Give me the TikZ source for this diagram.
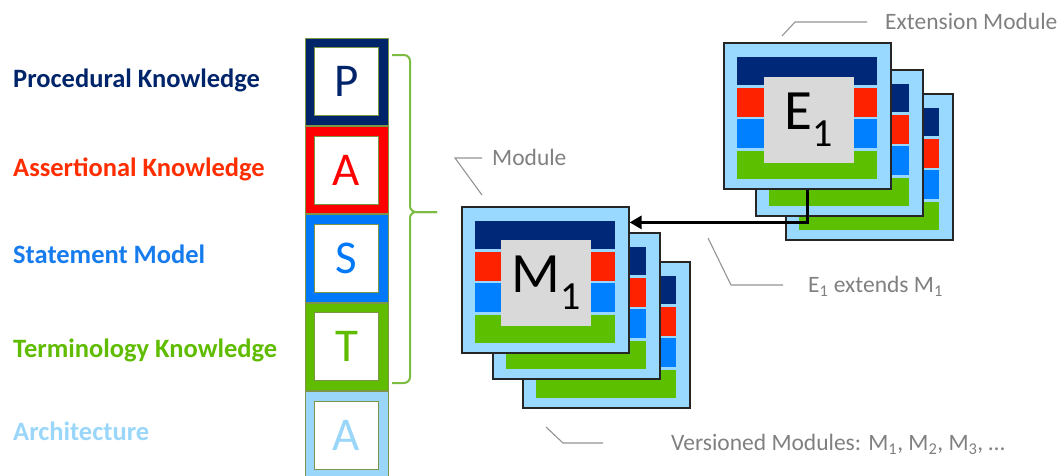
\documentclass[tikz,border=0pt]{standalone}
\usepackage{fontspec}
\setmainfont{Carlito}
\usepackage{tikz}
\usetikzlibrary{positioning}
\usetikzlibrary{arrows.meta}

\definecolor{pnavy}{RGB}{0,36,106}
\definecolor{ared}{RGB}{255,0,0}
\definecolor{atext}{RGB}{255,45,0}
\definecolor{sblue}{RGB}{0,120,250}
\definecolor{stext}{RGB}{22,124,238}
\definecolor{tgreen}{RGB}{96,188,0}
\definecolor{alight}{RGB}{153,214,250}
\definecolor{olivebd}{RGB}{125,150,70}
\definecolor{bracegreen}{RGB}{125,188,66}
\definecolor{cardbg}{RGB}{153,217,255}
\definecolor{bandnavy}{RGB}{0,40,120}
\definecolor{bandred}{RGB}{255,34,0}
\definecolor{bandblue}{RGB}{0,128,255}
\definecolor{bandgreen}{RGB}{92,192,0}
\definecolor{coregray}{RGB}{217,217,217}
\definecolor{notegray}{RGB}{128,128,128}

\tikzset{
  layerlabel/.style={anchor=west, inner sep=0pt, font=\fontsize{26.5}{30}\selectfont\bfseries, text height=17pt, text depth=0pt},
  stackbox/.style={draw=olivebd, line width=0.8pt, minimum width=83pt, minimum height=87.5pt, inner sep=0pt},
  letterbox/.style={draw=olivebd, fill=white, line width=0.8pt, minimum width=64pt, minimum height=68pt, inner sep=0pt, font=\fontsize{47}{50}\selectfont},
  cardframe/.style={draw=black!85, line width=1.2pt, fill=cardbg, minimum width=167pt, minimum height=146pt, inner sep=0pt},
  corebox/.style={fill=coregray, minimum width=90pt, minimum height=86pt, inner sep=0pt, font=\fontsize{57}{60}\selectfont},
  note/.style={anchor=west, inner sep=0pt, text=notegray, font=\fontsize{23.5}{28}\selectfont, text height=15pt, text depth=0pt},
  callout/.style={draw=notegray!85, line width=1.1pt},
  bracket/.style={draw=bracegreen, line width=2pt, rounded corners=6pt},
  extarrow/.style={line width=3pt, -{Triangle[length=12pt,width=13pt]}}
}

% one module card, #1 name, (#2,#3) top left corner
\newcommand{\modcard}[3]{%
  \begin{scope}[shift={(#2,#3)}]
    \node[cardframe] (#1) at (83.5,73) {};
    \fill[bandnavy] (13,14) rectangle (153,42);
    \fill[bandred] (13,45) rectangle (153,74);
    \fill[bandblue] (13,76) rectangle (153,105);
    \fill[bandgreen] (13,108) rectangle (153,136);
  \end{scope}}

\begin{document}
\begin{tikzpicture}[x=1pt,y=-1pt]
\useasboundingbox (0,0) rectangle (1063,475);

% layer names
\node[layerlabel, text=pnavy] (lblP) at (13,79) {Procedural Knowledge};
\node[layerlabel, text=atext] (lblA) at (13,168) {Assertional Knowledge};
\node[layerlabel, text=stext] (lblS) at (13,255) {Statement Model};
\node[layerlabel, text=tgreen] (lblT) at (13,349) {Terminology Knowledge};
\node[layerlabel, text=alight] (lblArch) at (13,432) {Architecture};

% layer stack
\node[stackbox, fill=pnavy] (boxP) at (346.5,81.75) {};
\node[stackbox, fill=ared, below=0pt of boxP] (boxA) {};
\node[stackbox, fill=sblue, below=0pt of boxA] (boxS) {};
\node[stackbox, fill=tgreen, below=0pt of boxS] (boxT) {};
\node[stackbox, fill=alight, below=0pt of boxT] (boxArch) {};

\node[letterbox, text=pnavy] (letP) at (boxP) {P};
\node[letterbox, text=ared] (letA) at (boxA) {A};
\node[letterbox, text=sblue] (letS) at (boxS) {S};
\node[letterbox, text=tgreen] (letT) at (boxT) {T};
\node[letterbox, text=alight] (letArch) at (boxArch) {A};

% brace over P..T
\coordinate (bracetip) at (437,212);
\draw[bracket] (392,55) -| (410,212) -- (bracetip);
\draw[bracket] (392,383) -| (410,212) -- (bracetip);

% versioned modules
\modcard{m3}{523}{262}
\modcard{m2}{493}{233}
\modcard{m1}{462}{207}
\node[corebox] (m1core) at (546,283) {M\textsubscript{1}};

% extension modules
\modcard{e3}{786}{94}
\modcard{e2}{756}{70}
\modcard{e1}{724}{43}
\node[corebox] (e1core) at (808.5,120) {E\textsubscript{1}};

\draw[extarrow] (e1.south) |- ([yshift=-16pt]m1.north east);

% notes
\node[note] (modlbl) at (492,158) {Module};
\draw[callout] ([xshift=-10pt]modlbl.west) -- ++(-27,0) -- ++(27,37);

\node[note] (extlbl) at (885,22) {Extension Module};
\draw[callout] ([xshift=-18pt]extlbl.west) -- ++(-72,0) -- ++(-13,14);

\node[note] (extendslbl) at (808,285) {E\textsubscript{1} extends M\textsubscript{1}};
\draw[callout] ([xshift=-25pt]extendslbl.west) -- ++(-52,0) -- ++(-23,-47);

\node[note] (verlbl) at (671,443) {Versioned Modules: M\textsubscript{1}, M\textsubscript{2}, M\textsubscript{3}, \dots};
\draw[callout] ([xshift=-68pt]verlbl.west) -- ++(-40,0) -- ++(-17,-16);

\end{tikzpicture}
\end{document}
